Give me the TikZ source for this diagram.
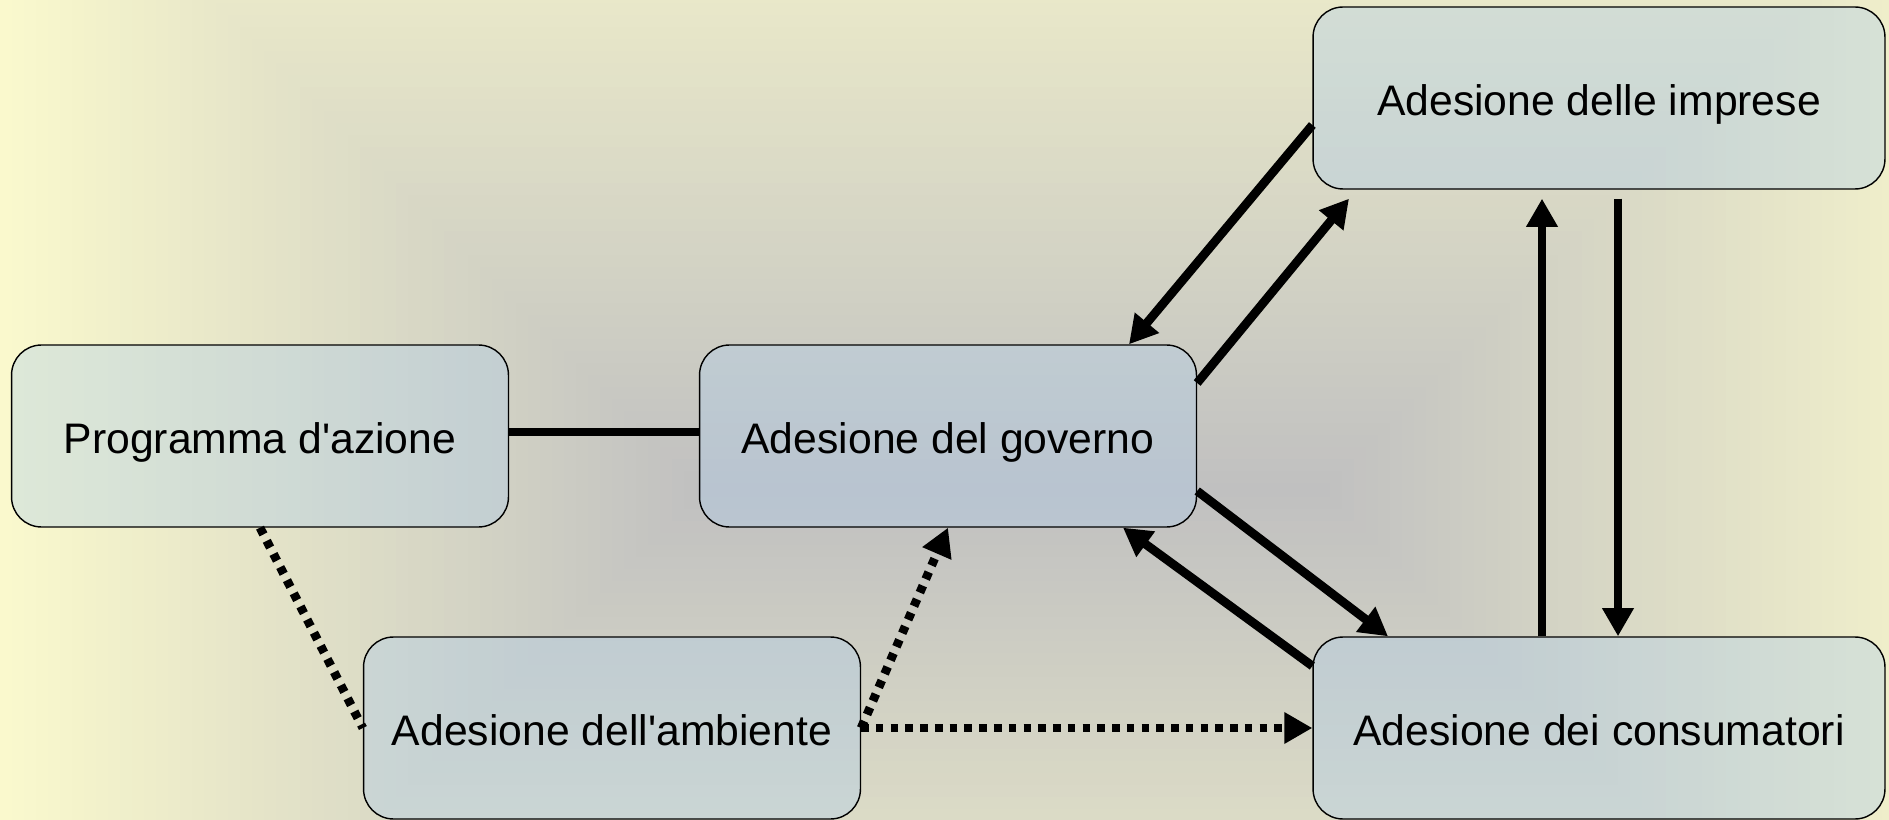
\documentclass[tikz,border=0pt]{standalone}
\usepackage{fontspec}
\setmainfont{Liberation Sans}
\usetikzlibrary{arrows.meta,calc}
\definecolor{fondjaune}{RGB}{250,249,205}
\definecolor{fondgris}{RGB}{192,192,192}
\definecolor{bleuboite}{RGB}{173,205,237}

\begin{document}
\begin{tikzpicture}[x=0.02cm, y=-0.02cm,
    bloc/.style={draw=black, line width=0.8pt, rounded corners=0.6cm,
        fill=bleuboite, fill opacity=0.36, text opacity=1,
        minimum height=3.64cm, text height=24.5pt, text depth=4.7pt,
        font=\fontsize{24.3}{29}\selectfont},
    lien/.style={line width=5pt},
    pointille/.style={line width=5pt, dash pattern=on 4.3pt off 4.1pt},
    fleche/.style={-{Triangle[length=16pt,width=17pt]}}]
        \def\cxa{703}   % start of the grey centre line
        \def\cxb{1323}  % end of the grey centre line
        \def\cy{490}
        \def\dmax{703}

        \useasboundingbox (0,0) rectangle (1889,820);

        % background: rectangles from yellow edge to grey centre
        \begin{scope}
            \clip (0,0) rectangle (1889,820);
            \foreach \d in {703,691,...,0} {
                \pgfmathtruncatemacro\p{\d/\dmax*100}
                \fill[fondjaune!\p!fondgris] (\cxa-\d,\cy-\d) rectangle (\cxb+\d,\cy+\d);
            }
        \end{scope}

        % boxes
        \node[bloc, minimum width=9.94cm]  (prog) at (260,436)  {Programma d\textquotesingle azione};
        \node[bloc, minimum width=9.94cm]  (gov)  at (948,436)  {Adesione del governo};
        \node[bloc, minimum width=11.44cm] (imp)  at (1599,98)  {Adesione delle imprese};
        \node[bloc, minimum width=9.94cm]  (amb)  at (612,728)  {Adesione dell\textquotesingle ambiente};
        \node[bloc, minimum width=11.44cm] (cons) at (1599,728) {Adesione dei consumatori};

        % solid links
        \draw[lien] ($(prog.east)+(0,-4)$) -- ($(gov.west)+(0,-4)$);
        \draw[lien, fleche] ($(imp.west)+(0,27)$) -- ($(gov.north)+(181,0)$);
        \draw[lien, fleche] ($(gov.east)+(0,-53)$) -- ($(imp.south)+(-250,9)$);
        \draw[lien, fleche] ($(gov.east)+(0,55)$) -- ($(cons.north)+(-211,0)$);
        \draw[lien, fleche] ($(cons.west)+(0,-62)$) -- ($(gov.south)+(175,0)$);
        \draw[lien, fleche] ($(cons.north)+(-57,0)$) -- ($(imp.south)+(-57,9)$);
        \draw[lien, fleche] ($(imp.south)+(19,9)$) -- ($(cons.north)+(19,0)$);

        % dotted links
        \draw[pointille] (prog.south) -- (amb.west);
        \draw[pointille, fleche] (amb.east) -- (gov.south);
        \draw[pointille, fleche] (amb.east) -- (cons.west);
\end{tikzpicture}
\end{document}
